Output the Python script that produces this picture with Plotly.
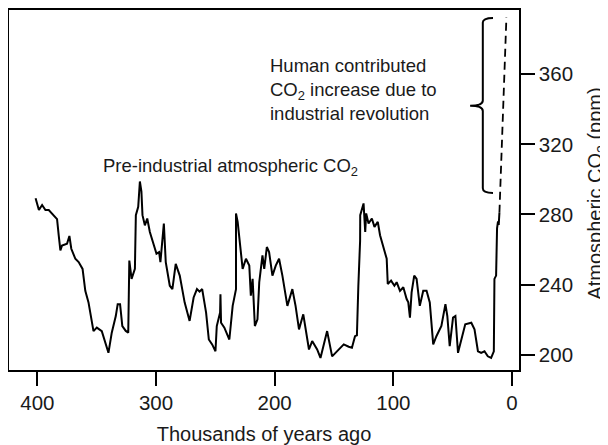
import plotly.graph_objects as go

# Pre-industrial ice-core CO2 record (thousands of years ago, ppm)
kyr_ago = [401.5, 398.7, 396, 393.2, 390.4, 383.4, 382, 380.6, 379.2, 375, 373, 371.4, 368, 365.2,
           361.9, 359.6, 356.9, 352.7, 349.9, 345.7, 340.1, 337.3, 333.9, 332.3, 330.3, 328.4, 325.5,
           323.4, 322.5, 320.6, 317.8, 317, 315, 313.6, 312.3, 311.4, 309.4, 307.4, 305.2, 301, 299.6,
           297.4, 296.3, 293.4, 291.8, 288.4, 286.2, 283.4, 280, 275.9, 271.7, 268.3, 265.5, 263.3,
           261.1, 257.8, 255.5, 252.7, 249.9, 248.8, 246, 245.7, 245.2, 242.4, 238.2, 235.4, 232.6,
           232.6, 231.2, 227, 224.2, 221.4, 220.1, 218.6, 216.7, 214.5, 213, 210.3, 208.8, 206.6,
           204.7, 201.9, 199.1, 196.3, 193.5, 189.3, 185.1, 182.4, 179.5, 175.9, 173.1, 171.1, 168.4,
           164.2, 161.4, 155.8, 151.6, 147.4, 141.8, 137.6, 134.9, 132.3, 130.7, 129.5, 128, 127.9,
           125.1, 123.7, 122.9, 120.9, 118.1, 115.9, 113.1, 111.2, 108.3, 105.6, 104.7, 101.9, 99.1,
           97.2, 94.4, 91.6, 88.8, 87.4, 86, 84.6, 82.4, 80.4, 77.7, 74.8, 72, 69.3, 66.4, 63.7, 59.5,
           56.1, 54.5, 52.5, 49.7, 47.7, 45.5, 42.7, 39.4, 34.3, 31.6, 28.7, 26, 23.2, 20.4, 17.6,
           15.3, 14.8, 13.4, 12.6, 11.8, 11.2, 10.6]
co2_ppm = [289.2, 282.5, 285.4, 282.5, 282.5, 277.3, 268.1, 259.5, 262.3, 263.3, 267.7, 260.4, 254.7,
           252.8, 248.9, 236.4, 229.8, 213.4, 215.4, 213.4, 201, 212.5, 222, 228.8, 228.8, 216.3,
           213.5, 212.5, 253.7, 243.2, 248.9, 279.6, 284.4, 298.8, 293, 279.6, 273.8, 277.7, 270,
           260.4, 257.6, 258.5, 252.8, 274.8, 252.8, 239.3, 237.4, 251.8, 245.1, 229.8, 219.2, 232.6,
           237.4, 235.9, 237.4, 224, 208.6, 205.8, 201.9, 216.3, 224, 234.5, 218.2, 215.4, 208.6,
           227.8, 237.4, 280.6, 275.8, 248.9, 254.7, 250.8, 233.6, 243.2, 216.3, 220.1, 241.3, 256.6,
           248.9, 261.4, 258.5, 245.1, 250.8, 254.7, 245.1, 227.8, 237.4, 227.8, 214.4, 223, 210.5,
           202.9, 207.7, 202.9, 198.1, 213.4, 199, 201.9, 205.8, 204.5, 203.9, 210.5, 211, 239, 265,
           279.6, 286.3, 270, 280.6, 274.8, 277.7, 272.9, 275.8, 268.1, 260.4, 254.7, 240.3, 242.2,
           239.3, 241.3, 236.4, 238.4, 231.7, 229.8, 221.1, 235.5, 245.1, 243.2, 227.8, 236.4, 236.4,
           229.8, 205.8, 210.5, 216.3, 228.8, 222, 204.8, 221.1, 222, 201, 208.6, 217.3, 218.2, 214.4,
           201.9, 201, 201.9, 199, 198.1, 201.9, 243.2, 245.1, 272, 276, 274, 281]

# Human contributed increase (dashed)
human_kyr = [10.6, 4.7]
human_ppm = [281, 392.5]

x_ticks = [400, 300, 200, 100, 0]
y_ticks = [200, 240, 280, 320, 360]

FONT = "Liberation Sans, Arial, sans-serif"
INK = "#1a1a1a"

fig = go.Figure()
fig.add_trace(go.Scatter(x=kyr_ago, y=co2_ppm, mode="lines",
                         line=dict(color="black", width=2), hoverinfo="skip", showlegend=False))
fig.add_trace(go.Scatter(x=human_kyr, y=human_ppm, mode="lines",
                         line=dict(color="black", width=1.8, dash="8px,5px"),
                         hoverinfo="skip", showlegend=False))

# Curly bracket
fig.add_shape(type="path", xref="x", yref="y",
              path="M 16,392.2 Q 24.6,392.2 24.6,389.5 L 24.6,345 Q 24.6,342 35.3,342 "
                   "Q 24.6,342 24.6,339 L 24.6,295 Q 24.6,292.3 16,292.3",
              line=dict(color="black", width=2))

fig.add_annotation(x=346, y=307.3, xref="x", yref="y", xanchor="left", yanchor="middle",
                   text="Pre-industrial atmospheric CO<sub>2</sub>", showarrow=False,
                   font=dict(family=FONT, size=18.5, color=INK))
fig.add_annotation(x=205.5, y=351.6, xref="x", yref="y", xanchor="left", yanchor="middle",
                   align="left",
                   text="Human contributed<br>CO<sub>2</sub> increase due to<br>industrial revolution",
                   showarrow=False, font=dict(family=FONT, size=18.5, color=INK))

# Right-hand axis title, placed as rotated text beside the tick labels
fig.add_annotation(x=1.153, y=0.49, xref="paper", yref="paper", xanchor="center",
                   yanchor="middle", textangle=-90, showarrow=False,
                   text="Atmospheric CO<sub>2</sub> (ppm)",
                   font=dict(family=FONT, size=20, color=INK))

# The page body adds an 8px offset, so the figure is sized to fit the remaining window.
fig.update_layout(
    width=600, height=437,
    margin=dict(l=1, r=89, t=2, b=75, autoexpand=False),
    paper_bgcolor="white", plot_bgcolor="white",
    font=dict(family=FONT, size=20, color=INK),
    xaxis=dict(range=[423.9, -5.9], tickvals=x_ticks, ticks="outside", ticklen=14,
               tickwidth=1.5, tickcolor="black", showline=True, mirror=True, linecolor="black",
               linewidth=1.5, showgrid=False, zeroline=False, automargin=False,
               tickfont=dict(size=20.5, color=INK),
               title=dict(text="Thousands of years ago", font=dict(size=20, color=INK), standoff=15)),
    yaxis=dict(range=[191.2, 396.7], side="right", tickvals=y_ticks, ticks="outside", ticklen=14,
               tickwidth=1.5, tickcolor="black", showline=True, mirror=True, linecolor="black",
               linewidth=1.5, showgrid=False, zeroline=False, automargin=False,
               tickfont=dict(size=20.5, color=INK)),
)

fig.write_html("out.html")
